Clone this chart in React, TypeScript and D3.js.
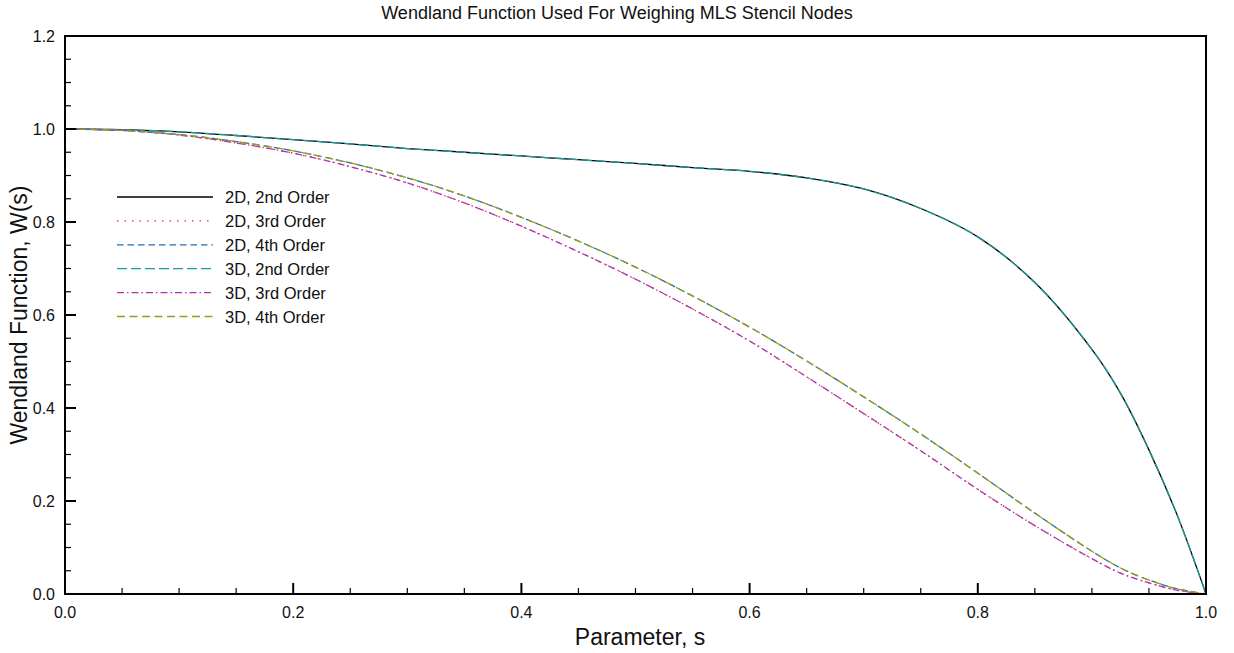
import React from "react";
import * as d3 from "d3";

const sValues = [0, 0.05, 0.1, 0.15, 0.2, 0.25, 0.3, 0.35, 0.4, 0.45, 0.5, 0.55, 0.6, 0.65, 0.7, 0.75, 0.8, 0.85, 0.9, 0.925, 0.95, 0.975, 1.0];

const w2D2nd = [1.0, 0.9985, 0.994, 0.986, 0.977, 0.968, 0.958, 0.95, 0.942, 0.934, 0.926, 0.917, 0.909, 0.895, 0.871, 0.829, 0.768, 0.67, 0.526, 0.432, 0.31, 0.168, 0];
const w2D3rd = [1.0, 0.997, 0.987, 0.97, 0.948, 0.919, 0.884, 0.841, 0.791, 0.736, 0.677, 0.613, 0.544, 0.467, 0.388, 0.308, 0.225, 0.147, 0.076, 0.045, 0.024, 0.008, 0];
const w2D4th = [1.0, 0.997, 0.988, 0.973, 0.953, 0.927, 0.895, 0.856, 0.81, 0.759, 0.703, 0.641, 0.574, 0.501, 0.424, 0.344, 0.26, 0.174, 0.092, 0.056, 0.03, 0.011, 0];
const w3D2nd = [1.0, 0.9985, 0.994, 0.986, 0.977, 0.968, 0.958, 0.95, 0.942, 0.934, 0.926, 0.917, 0.909, 0.895, 0.871, 0.829, 0.768, 0.67, 0.526, 0.432, 0.31, 0.168, 0];
const w3D3rd = [1.0, 0.997, 0.987, 0.97, 0.948, 0.919, 0.884, 0.841, 0.791, 0.736, 0.677, 0.613, 0.544, 0.467, 0.388, 0.308, 0.225, 0.147, 0.076, 0.045, 0.024, 0.008, 0];
const w3D4th = [1.0, 0.997, 0.988, 0.973, 0.953, 0.927, 0.895, 0.856, 0.81, 0.759, 0.703, 0.641, 0.574, 0.501, 0.424, 0.344, 0.26, 0.174, 0.092, 0.056, 0.03, 0.011, 0];

const seriesNames = ["2D, 2nd Order", "2D, 3rd Order", "2D, 4th Order", "3D, 2nd Order", "3D, 3rd Order", "3D, 4th Order"];
const seriesValues = [w2D2nd, w2D3rd, w2D4th, w3D2nd, w3D3rd, w3D4th];
const seriesColors = ["#000000", "#c8373a", "#1f6fb4", "#1a9c9c", "#b034b0", "#9c9c1a"];
const seriesDashes = ["none", "1.5,6", "6.5,4", "10,4", "7,3,1.5,3", "8,4.5"];

const xTicks = [0, 0.2, 0.4, 0.6, 0.8, 1.0];
const yTicks = [0, 0.2, 0.4, 0.6, 0.8, 1.0, 1.2];

const title = "Wendland Function Used For Weighing MLS Stencil Nodes";
const xLabel = "Parameter, s";
const yLabel = "Wendland Function, W(s)";

export default function App() {
  const W = 1234, H = 653;
  const left = 65, right = 1206, top = 36, bottom = 594;
  const x = d3.scaleLinear().domain([0, 1]).range([left, right]);
  const y = d3.scaleLinear().domain([0, 1.2]).range([bottom, top]);
  const line = d3.line<number>().x((_, i) => x(sValues[i])).y((v) => y(v)).curve(d3.curveCatmullRom.alpha(0.5));
  const xMinor = d3.range(0, 1.0001, 0.05).filter((v) => !xTicks.some((t) => Math.abs(t - v) < 1e-6));
  const yMinor = d3.range(0, 1.2001, 0.05).filter((v) => !yTicks.some((t) => Math.abs(t - v) < 1e-6));
  const font = "'Liberation Sans', Arial, Helvetica, sans-serif";
  const legX0 = 117, legX1 = 213, legTextX = 225, legY0 = 197, legDy = 23.9;

  return (
    <svg width={W} height={H} style={{ position: "absolute", left: 0, top: 0, background: "#fff" }} fontFamily={font}>
      <defs>
        <clipPath id="clip"><rect x={left} y={top - 2} width={right - left + 2} height={bottom - top + 2} /></clipPath>
      </defs>
      <text x={617} y={19} textAnchor="middle" fontSize={18} fill="#111">{title}</text>
      <g clipPath="url(#clip)">
        {seriesValues.map((vals, k) => (
          <path key={k} d={line(vals) || ""} fill="none" stroke={seriesColors[k]} strokeWidth={1.3} strokeDasharray={seriesDashes[k]} />
        ))}
      </g>
      {xTicks.map((t) => (
        <g key={"xt" + t}>
          <line x1={x(t)} x2={x(t)} y1={bottom} y2={bottom - 11} stroke="#000" strokeWidth={2} />
          <text x={x(t)} y={618} textAnchor="middle" fontSize={16} fill="#111">{t.toFixed(1)}</text>
        </g>
      ))}
      {xMinor.map((t) => (
        <line key={"xm" + t} x1={x(t)} x2={x(t)} y1={bottom} y2={bottom - 6} stroke="#000" strokeWidth={1.2} />
      ))}
      {yTicks.map((t) => (
        <g key={"yt" + t}>
          <line x1={left} x2={left + 11} y1={y(t)} y2={y(t)} stroke="#000" strokeWidth={2} />
          <text x={55} y={y(t) + 5.5} textAnchor="end" fontSize={16} fill="#111">{t.toFixed(1)}</text>
        </g>
      ))}
      {yMinor.map((t) => (
        <line key={"ym" + t} x1={left} x2={left + 6} y1={y(t)} y2={y(t)} stroke="#000" strokeWidth={1.2} />
      ))}
      <rect x={left} y={top} width={right - left} height={bottom - top} fill="none" stroke="#000" strokeWidth={2} />
      <text x={640} y={645} textAnchor="middle" fontSize={23} fill="#111">{xLabel}</text>
      <text transform={`translate(27,${(top + bottom) / 2}) rotate(-90)`} textAnchor="middle" fontSize={23} fill="#111">{yLabel}</text>
      {seriesNames.map((name, k) => (
        <g key={"lg" + k}>
          <line x1={legX0} x2={legX1} y1={legY0 + k * legDy} y2={legY0 + k * legDy} stroke={seriesColors[k]} strokeWidth={1.3} strokeDasharray={seriesDashes[k]} />
          <text x={legTextX} y={legY0 + k * legDy + 6} fontSize={16.5} fill="#111">{name}</text>
        </g>
      ))}
    </svg>
  );
}
